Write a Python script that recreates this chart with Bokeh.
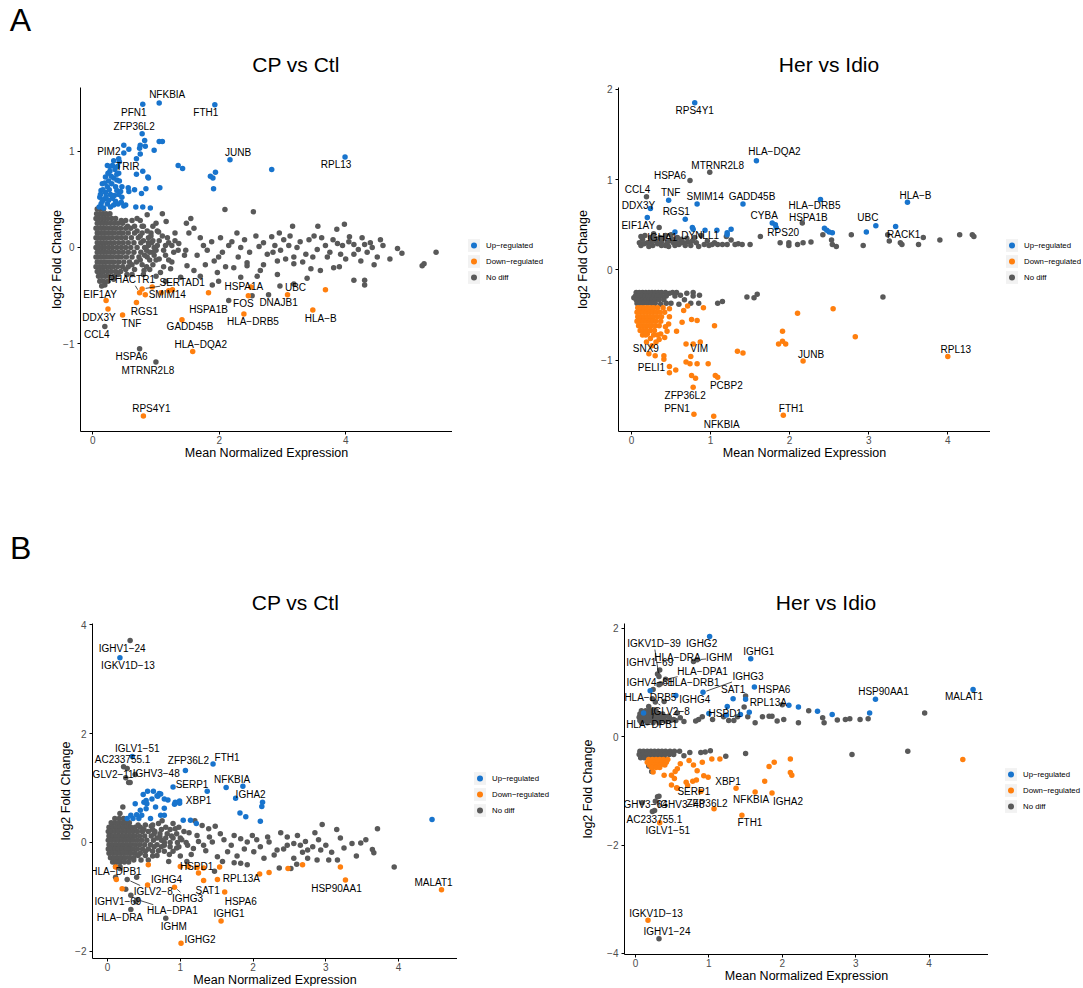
import math
from bokeh.plotting import figure
from bokeh.models import Range1d, Legend, LegendItem, Label, FixedTicker, ColumnDataSource
from bokeh.layouts import row, column
from bokeh.embed import file_html
from bokeh.resources import INLINE
from bokeh.core.properties import value

FONT = "Liberation Sans"
BLUE = "#1874CD"
ORANGE = "#FF7F0E"
GREY = "#595959"
KEYBG = "#F2F2F2"
MINUS = "\u2212"

LEGEND_LABELS = ["Up\u2212regulated", "Down\u2212regulated", "No diff"]
X_LABEL = "Mean Normalized Expression"
Y_LABEL = "log2 Fold Change"
TITLE_LEFT = "CP vs Ctl"
TITLE_RIGHT = "Her vs Idio"

# ---------------- Panel A, CP vs Ctl ----------------
a1_up = [(1.05,1.50),(0.79,1.485),(1.93,1.48),(0.78,1.18),(2.17,0.91),(3.99,0.94),(2.83,0.81),
 (0.49,1.06),(0.57,1.02),(0.49,0.98),(0.41,0.92),(0.42,0.89),(0.82,1.11),(0.75,1.06),(0.83,1.05),
 (0.74,1.03),(0.97,1.01),(1.05,1.10),(1.10,1.10),(0.69,0.92),(0.75,0.97),(1.35,0.85),(1.42,0.82),
 (1.86,0.74),(1.90,0.72),(1.94,0.78),(1.91,0.61),(0.79,0.79),(0.69,0.76),(0.87,0.73),(0.88,0.72),
 (1.06,0.62),(0.84,0.61),(0.77,0.56),(0.66,0.60),(0.57,0.58),(0.68,0.42),(0.79,0.42),(0.91,0.41),
 (0.49,0.43),(0.23,0.85),(0.31,0.85),(0.27,0.79),(0.35,0.81),(0.41,0.77),(0.20,0.73),(0.33,0.72),
 (0.25,0.69),(0.42,0.69),(0.15,0.66),(0.23,0.63),(0.36,0.63),(0.46,0.63),(0.13,0.59),(0.20,0.57),
 (0.28,0.55),(0.41,0.55),(0.11,0.52),(0.18,0.50),(0.31,0.51),(0.46,0.52),(0.13,0.45),(0.23,0.45),
 (0.33,0.44),(0.10,0.42),(0.17,0.41),(0.16,0.60),(0.26,0.60),(0.30,0.66),(0.38,0.59),(0.15,0.48),
 (0.25,0.49),(0.36,0.48),(0.40,0.45),(0.28,0.42),(0.21,0.53),(0.34,0.54),(0.38,0.70),(0.29,0.74),
 (0.38,0.76),(0.44,0.58),(0.12,0.55),(0.19,0.67),(0.24,0.77),(0.45,0.47),(0.52,0.44),(0.56,0.62),
 (0.33,0.90),(0.27,0.84),(0.39,0.84)]
a1_down = [(0.80,-1.75),(1.58,-1.08),(1.41,-0.75),(2.39,-0.69),(3.48,-0.65),(3.08,-0.49),(3.68,-0.44),
 (2.46,-0.50),(2.50,-0.41),(1.83,-0.47),(1.26,-0.44),(1.20,-0.45),(1.08,-0.47),(0.94,-0.41),(0.78,-0.43),
 (0.74,-0.47),(0.83,-0.49),(0.69,-0.57),(0.47,-0.70),(0.24,-0.64),(0.21,-0.55)]
a1_nodiff = [(2.09,0.395),(2.54,0.37),(3.16,0.22),(3.56,0.22),(3.86,0.19),(3.98,0.24),(2.83,0.11),
 (2.28,0.15),(4.06,0.11),(4.59,0.02),(4.82,-0.01),(4.89,-0.06),(5.43,-0.05),(5.24,-0.17),(5.21,-0.19),
 (1.55,0.30),(1.48,0.25),(1.60,0.20),(1.52,0.15),(1.10,0.35),(0.86,0.34),(1.16,0.27),(1.04,0.16),
 (1.18,0.10),(1.36,0.04),(1.70,0.10),(2.02,0.10),(2.15,0.02),(2.34,0.00),(2.63,0.01),(2.76,-0.07),
 (2.97,-0.03),(3.10,0.02),(3.23,0.00),(3.42,0.08),(3.37,-0.07),(3.55,-0.02),(3.68,0.02),(3.71,-0.10),
 (3.87,0.04),(3.92,-0.07),(4.13,0.03),(4.13,-0.07),(4.30,0.03),(4.39,0.05),(4.42,0.00),(4.34,-0.05),
 (4.24,-0.14),(4.50,-0.10),(3.18,-0.10),(2.92,-0.14),(2.44,-0.16),(1.99,-0.10),(1.81,-0.03),(1.65,-0.08),
 (1.47,-0.03),(4.13,-0.34),(4.30,-0.34),(4.30,-0.39),(3.39,-0.32),(3.18,-0.38),(2.96,-0.40),(2.78,-0.49),
 (2.52,-0.50),(2.15,-0.55),(1.89,-0.39),(1.99,-0.35),(2.34,-0.31),(1.97,-0.26),(2.23,-0.21),(2.65,-0.24),
 (2.92,-0.28),(3.18,-0.17),(1.70,-0.30),(1.39,-0.31),(1.07,-0.26),(0.81,-0.24),(0.54,-0.28),(0.33,-0.33),
 (0.19,-0.39),(0.19,-0.82),(0.74,-1.05),(0.998,-1.19),(1.60,-0.24),(2.44,-0.19),(3.60,-0.24),(3.81,-0.21),
 (1.49,-0.19),(1.23,-0.22),(2.05,-0.05),(2.20,0.06),(2.40,0.08),(2.48,-0.05),(2.58,0.12),(2.70,0.05),
 (2.85,-0.05),(2.88,0.02),(3.02,0.08),(3.05,-0.12),(3.28,0.06),(3.32,-0.15),(3.48,-0.10),(3.50,0.12),
 (3.62,0.10),(3.75,-0.05),(3.80,0.08),(3.95,0.02),(4.00,-0.12),(4.05,0.06),(4.20,-0.02),(4.26,0.10),
 (4.45,-0.18),(4.55,0.08),(1.75,0.02),(1.88,0.06),(1.92,-0.14),(1.78,-0.18),(2.10,-0.20),(2.30,-0.10),
 (2.60,-0.30),(2.70,-0.18),(2.95,0.15),(3.12,0.12),(3.45,-0.22),(3.90,-0.20),(4.70,-0.12),(0.70,0.30),
 (0.78,0.22),(0.92,0.15),(1.00,0.25),(0.95,-0.05),(1.05,-0.12),(1.12,-0.20),(0.85,-0.20),(0.80,-0.28),
 (1.00,-0.30),(1.25,-0.15),(1.30,0.15),(1.45,-0.08),(1.20,0.05),(1.28,-0.05),(0.88,0.05),(1.15,-0.35)]
# dense core of the cloud, one row per log2 fold change level
a1_nodiff_rows = [
 (0.40,[0.07,0.12,0.17]),
 (0.35,[0.06,0.11,0.16,0.21,0.27]),
 (0.30,[0.05,0.09,0.14,0.19,0.24,0.30,0.36]),
 (0.25,[0.07,0.12,0.17,0.22,0.28,0.34,0.40,0.47]),
 (0.20,[0.05,0.09,0.14,0.19,0.25,0.31,0.37,0.44,0.52,0.60]),
 (0.15,[0.07,0.12,0.17,0.22,0.28,0.34,0.41,0.48,0.56,0.66,0.78]),
 (0.10,[0.05,0.09,0.14,0.19,0.25,0.31,0.38,0.45,0.52,0.61,0.72,0.88]),
 (0.05,[0.07,0.12,0.17,0.22,0.28,0.34,0.41,0.48,0.56,0.65,0.76,0.93]),
 (0.00,[0.05,0.09,0.14,0.19,0.25,0.31,0.38,0.45,0.52,0.60,0.70,0.82,0.97]),
 (-0.05,[0.07,0.12,0.17,0.22,0.28,0.34,0.41,0.48,0.56,0.65,0.76,0.90]),
 (-0.10,[0.05,0.09,0.14,0.19,0.25,0.31,0.38,0.45,0.53,0.62,0.73,0.86]),
 (-0.15,[0.07,0.12,0.17,0.22,0.28,0.34,0.41,0.49,0.58,0.69]),
 (-0.20,[0.05,0.10,0.15,0.20,0.26,0.32,0.39,0.47,0.56]),
 (-0.25,[0.07,0.12,0.17,0.23,0.29,0.36,0.44]),
 (-0.30,[0.09,0.14,0.20,0.26,0.33]),
 (-0.35,[0.11,0.17,0.24]),
 (-0.40,[0.14]),
 # looser fringe of the cloud
 (0.28,[0.45,0.52,0.62,0.75]),
 (0.22,[0.55,0.66,0.80,0.95]),
 (0.17,[0.70,0.86,1.02]),
 (0.12,[0.75,0.92,1.10]),
 (0.07,[0.80,0.95,1.05,1.30]),
 (0.02,[0.88,1.02,1.15,1.25]),
 (-0.03,[0.85,1.00,1.12,1.35]),
 (-0.08,[0.82,0.97,1.15]),
 (-0.13,[0.75,0.90,1.00,1.20]),
 (-0.18,[0.62,0.78,0.95]),
 (-0.23,[0.52,0.66,0.90]),
 (-0.28,[0.40,0.62])]
a1_labels = [("NFKBIA",1.05,1.50),("PFN1",0.79,1.485),("FTH1",1.93,1.48),("ZFP36L2",0.78,1.18),
 ("PIM2",0.49,1.06),("TRIR",0.41,0.92),("JUNB",2.17,0.91),("RPL13",3.99,0.94),("PHACTR1",0.74,-0.47),
 ("SERTAD1",0.78,-0.43),("SMIM14",0.83,-0.49),("EIF1AY",0.21,-0.55),("RGS1",0.69,-0.57),
 ("DDX3Y",0.24,-0.64),("TNF",0.47,-0.70),("CCL4",0.19,-0.82),("HSPA1A",2.50,-0.41),("UBC",3.08,-0.49),
 ("FOS",2.46,-0.50),("DNAJB1",2.78,-0.49),("HSPA1B",1.83,-0.47),("HLA\u2212DRB5",2.39,-0.69),
 ("HLA\u2212B",3.48,-0.65),("GADD45B",1.41,-0.75),("HLA\u2212DQA2",1.58,-1.08),("HSPA6",0.74,-1.05),
 ("MTRNR2L8",0.998,-1.19),("RPS4Y1",0.80,-1.75)]
# label placement (pixels from the point, y downward) and whether a leader line is drawn
a1_label_place = [(8,-8,0),(-9,8,0),(-9,8,0),(-8,-7,0),(-15,6,0),(9,8,0),(8,-7,0),(-9,8,0),(-8,-13,1),
 (40,-6,1),(22,0,0),(-6,-6,0),(8,9,0),(-9,8,0),(9,9,0),(-8,8,0),(-7,0,0),(8,-7,0),(-5,8,0),(10,8,0),
 (0,17,0),(9,8,0),(8,8,0),(8,7,0),(8,-7,0),(-8,8,0),(-8,8,0),(8,-8,0)]

# ---------------- Panel A, Her vs Idio ----------------
a2_up = [(0.80,1.85),(1.58,1.21),(0.47,0.77),(0.83,0.73),(1.41,0.73),(0.24,0.68),(0.20,0.58),(0.68,0.56),
 (2.39,0.78),(3.49,0.75),(1.78,0.52),(1.82,0.50),(1.83,0.47),(3.09,0.49),(2.97,0.42),(3.34,0.48),
 (2.44,0.46),(2.47,0.44),(2.54,0.41),(2.50,0.42),(0.55,0.42),(0.77,0.47),(0.78,0.45),(0.93,0.44),
 (1.08,0.44),(1.21,0.41),(1.26,0.45),(1.21,0.39)]
a2_down = [(4.00,-0.96),(2.17,-1.01),(1.92,-1.61),(1.04,-1.62),(0.79,-1.60),(0.78,-1.30),(1.06,-1.17),
 (1.09,-1.19),(0.76,-1.17),(0.81,-1.20),(0.78,-0.82),(0.87,-0.80),(0.69,-0.82),(0.75,-0.96),(0.69,-1.02),
 (0.74,-1.04),(0.83,-1.04),(0.97,-1.04),(0.22,-0.93),(0.30,-0.95),(0.48,-1.07),(0.48,-1.14),(0.56,-1.11),
 (0.41,-0.99),(0.41,-0.95),(1.34,-0.90),(1.41,-0.92),(1.86,-0.82),(1.91,-0.79),(1.95,-0.82),(1.91,-0.68),
 (2.10,-0.48),(2.55,-0.43),(2.83,-0.74),(1.05,-0.62),(0.91,-0.42),(0.76,-0.55),(0.83,-0.56),(0.64,-0.58),
 (0.66,-0.45),(0.71,-0.40),(0.57,-0.68),(0.45,-0.68),(0.47,-0.60),(0.48,-0.52),(0.48,-0.43),(0.43,-0.63),
 (0.37,-0.71),(0.42,-0.75),(0.35,-0.77),(0.31,-0.80),(0.24,-0.76),(0.20,-0.71),(0.19,-0.80),(0.26,-0.84)]
a2_down_rows = [
 (-0.42,[0.08,0.12,0.16,0.20,0.24,0.28,0.33,0.40]),
 (-0.47,[0.07,0.11,0.15,0.19,0.23,0.27,0.31,0.36,0.42]),
 (-0.52,[0.08,0.12,0.16,0.20,0.24,0.28,0.33,0.38]),
 (-0.57,[0.07,0.11,0.15,0.19,0.23,0.27,0.31,0.37]),
 (-0.62,[0.09,0.13,0.17,0.21,0.25,0.30,0.35]),
 (-0.67,[0.11,0.15,0.19,0.24,0.29]),
 (-0.72,[0.14,0.18,0.28,0.33])]
a2_nodiff = [(3.24,0.39),(3.26,0.32),(3.40,0.30),(3.42,0.28),(3.63,0.28),(3.69,0.36),(3.90,0.33),(4.15,0.39),
 (4.31,0.39),(4.33,0.37),(2.93,0.27),(2.78,0.39),(2.53,0.33),(2.54,0.28),(2.59,0.26),(2.42,0.39),(2.27,0.31),
 (2.17,0.30),(2.10,0.28),(1.99,0.30),(1.99,0.27),(1.88,0.30),(1.63,0.37),(1.50,0.28),(1.35,0.29),(1.31,0.28),
 (1.21,0.28),(1.20,0.37),(1.15,0.28),(1.09,0.28),(1.02,0.28),(0.92,0.28),(0.82,0.30),(0.77,0.32),(0.72,0.31),
 (0.66,0.30),(0.60,0.28),(0.53,0.30),(0.48,0.32),(0.43,0.27),(0.35,0.47),(0.36,0.36),(0.31,0.32),(0.27,0.27),
 (0.20,0.30),(0.14,0.34),(0.17,0.38),(0.24,0.36),(0.43,0.38),(0.50,0.39),(0.58,0.36),(0.63,0.34),(0.88,0.38),
 (0.96,0.32),(0.74,0.99),(0.99,1.08),(0.19,0.81),(2.16,0.52),(0.10,0.30),(0.12,0.27),(0.16,0.29),(0.22,0.26),
 (0.25,0.31),(0.29,0.36),(0.33,0.29),(0.38,0.31),(0.40,0.35),(0.45,0.30),(0.52,0.34),(0.55,0.27),(0.62,0.30),
 (0.68,0.27),(0.70,0.35),(0.75,0.27),(0.80,0.36),(0.85,0.26),(0.12,0.37),(0.28,0.40),(0.38,0.27),(1.05,0.30),
 (1.26,0.33),(1.40,0.28),(0.98,0.27),(0.47,0.26),(0.57,0.31),
 (1.46,-0.30),(1.55,-0.31),(1.59,-0.27),(3.18,-0.30),(1.09,-0.37),(1.15,-0.35),(0.86,-0.28),(0.85,-0.37),
 (0.78,-0.25),(0.78,-0.29),(0.75,-0.37),(0.62,-0.28),(0.60,-0.38),(0.48,-0.26),(0.50,-0.37),(0.37,-0.38),
 (0.03,-0.31),(0.67,-0.33),(0.70,-0.26)]
a2_nodiff_rows = [
 (-0.25,[0.06,0.10,0.14,0.18,0.22,0.26,0.30,0.34,0.38,0.43,0.52,0.57]),
 (-0.29,[0.05,0.09,0.13,0.17,0.21,0.25,0.29,0.33,0.38,0.44,0.55]),
 (-0.33,[0.06,0.10,0.14,0.18,0.22,0.26,0.30,0.35,0.41]),
 (-0.37,[0.07,0.11,0.15,0.20,0.25,0.30,0.44])]
a2_labels = [("RPS4Y1",0.80,1.85),("HLA\u2212DQA2",1.58,1.21),("MTRNR2L8",0.99,1.08),("HSPA6",0.74,0.99),
 ("CCL4",0.19,0.81),("TNF",0.47,0.77),("SMIM14",0.83,0.73),("GADD45B",1.41,0.73),("DDX3Y",0.24,0.68),
 ("HLA\u2212DRB5",2.39,0.78),("HLA\u2212B",3.49,0.75),("RGS1",0.68,0.56),("CYBA",1.78,0.52),
 ("HSPA1B",2.16,0.52),("UBC",3.09,0.49),("EIF1AY",0.20,0.58),("RPS20",1.83,0.47),("DYNLL1",1.02,0.28),
 ("IGHA1",0.20,0.30),("RACK1",3.24,0.39),("SNX9",0.22,-0.93),("VIM",0.78,-0.82),("RPL13",4.00,-0.96),
 ("JUNB",2.17,-1.01),("PELI1",0.48,-1.07),("PCBP2",1.06,-1.17),("ZFP36L2",0.78,-1.30),("PFN1",0.79,-1.60),
 ("FTH1",1.92,-1.61),("NFKBIA",1.04,-1.62)]
a2_label_place = [(0,8,0),(18,-9,0),(8,-7,0),(-20,-5,0),(-9,-7,0),(2,-8,0),(8,-7,0),(9,-7,0),(-12,-3,0),
 (-6,6,0),(8,-7,0),(-9,-8,0),(-8,-7,0),(6,-5,0),(-8,-8,0),(-9,8,0),(7,5,0),(-12,-9,0),(15,-5,0),(16,0,0),
 (-3,-5,0),(6,5,0),(8,-7,0),(8,-7,0),(-18,1,0),(11,10,0),(-8,8,0),(-17,-6,0),(8,-7,0),(8,8,0)]

# ---------------- Panel B, CP vs Ctl ----------------
b1_up = [(0.17,3.39),(0.34,1.58),(1.07,1.32),(1.45,1.44),(1.63,1.01),(1.86,1.03),(0.90,1.02),(1.37,0.94),
 (1.76,0.81),(0.49,0.88),(0.55,0.94),(0.63,0.94),(0.71,0.90),(0.69,0.85),(0.53,0.77),(0.78,0.80),(0.83,0.78),
 (0.99,0.76),(0.93,0.74),(2.13,0.74),(0.99,0.72),(0.92,0.70),(0.78,0.63),(0.68,0.86),(2.12,0.66),(1.82,0.54),
 (1.90,0.47),(2.10,0.39),(4.46,0.42),(1.04,0.41),(1.14,0.41),(1.22,0.35),(0.73,0.50),(0.78,0.50),(0.59,0.44),
 (0.53,0.62),(0.45,0.59),(0.40,0.51),(0.38,0.71),(0.32,0.50),(0.35,0.44),(0.27,0.44),(0.43,0.44),(0.61,0.80),
 (0.50,0.74),(0.54,0.71),(0.66,0.65),(0.73,0.89),(0.47,0.50)]
b1_down = [(1.01,-1.85),(1.56,-1.44),(1.61,-0.91),(4.59,-0.87),(3.27,-0.69),(3.20,-0.45),(2.68,-0.41),
 (2.48,-0.48),(2.22,-0.55),(2.09,-0.58),(1.51,-0.68),(1.54,-0.45),(1.32,-0.70),(1.32,-0.47),(1.25,-0.56),
 (1.23,-0.46),(1.11,-0.44),(1.00,-0.44),(0.92,-0.82),(0.55,-0.78),(0.20,-0.85),(0.12,-0.68),(0.11,-0.45),
 (0.56,-0.41)]
b1_nodiff = [(2.95,0.33),(3.15,0.24),(3.71,0.25),(3.94,-0.45),(3.36,-0.02),(3.48,-0.01),(3.64,-0.13),
 (3.66,-0.19),(3.16,-0.32),(3.04,-0.32),(2.88,-0.32),(2.75,-0.29),(2.82,-0.08),(2.72,0.02),(2.65,-0.05),
 (2.56,-0.02),(2.47,-0.05),(2.38,0.18),(2.36,-0.47),(2.52,-0.48),(2.56,-0.29),(2.10,-0.08),(2.22,0.01),
 (2.01,-0.17),(1.92,-0.41),(1.83,-0.38),(1.74,0.13),(1.74,-0.37),(1.65,-0.17),(1.55,0.16),(1.51,-0.26),
 (1.47,-0.53),(1.39,0.25),(1.30,0.31),(1.23,0.13),(1.18,-0.11),(1.09,-0.35),(0.98,0.28),(0.93,0.25),
 (0.84,-0.35),(0.80,0.28),(0.70,0.35),(2.29,-0.23),(1.92,0.01),(1.99,0.13),(1.83,0.07),(1.44,0.01),
 (1.32,-0.05),(2.75,-0.14),(2.93,-0.14),(2.61,0.13),(2.47,0.10),(2.20,0.10),(2.33,-0.14),(2.15,-0.29),
 (0.31,3.71),(0.22,1.39),(0.27,1.36),(0.25,1.19),(0.38,1.25),(0.29,1.10),(0.31,1.10),
 (0.17,-0.48),(0.11,-0.64),(0.27,-0.68),(0.25,-0.86),(0.32,-0.97),(0.41,-1.05),(0.39,-1.09),(0.32,-1.23),
 (0.80,-1.39),(0.40,-0.64),(0.21,0.65),(0.17,0.53),
 (0.60,0.30),(0.65,0.20),(0.72,0.10),(0.78,-0.05),(0.88,0.12),(0.95,-0.10),(1.02,0.05),(1.12,0.18),
 (1.15,-0.22),(1.25,0.02),(1.35,-0.15),(1.40,0.10),(0.62,-0.25),(0.70,-0.15),(0.85,-0.22),(1.00,-0.25),
 (1.05,0.20),(0.90,0.35),(1.60,0.05),(1.70,-0.05),(1.78,-0.25),(1.88,-0.12),(2.05,0.05),(2.42,-0.12),
 (2.68,-0.18),(3.08,-0.18),(3.25,-0.10),(3.55,0.05),(3.42,-0.25),(2.90,0.05),(3.00,-0.05),(2.85,0.18),
 (2.60,-0.40),(3.20,0.08),(1.20,0.40),(1.10,-0.05),(0.75,0.40),(1.58,-0.35),(1.48,0.30)]
b1_nodiff_rows = [
 (0.44,[0.10,0.16,0.22]),
 (0.36,[0.05,0.10,0.15,0.20,0.25,0.30]),
 (0.28,[0.02,0.07,0.12,0.17,0.22,0.27,0.32,0.38,0.45]),
 (0.20,[0.01,0.05,0.10,0.15,0.20,0.25,0.30,0.35,0.41,0.48,0.56]),
 (0.12,[0.02,0.07,0.12,0.17,0.22,0.27,0.32,0.38,0.44,0.51,0.60]),
 (0.04,[0.01,0.05,0.10,0.15,0.20,0.25,0.30,0.35,0.41,0.47,0.54,0.63,0.74]),
 (-0.04,[0.02,0.07,0.12,0.17,0.22,0.27,0.32,0.38,0.44,0.51,0.59,0.68]),
 (-0.12,[0.01,0.05,0.10,0.15,0.20,0.25,0.30,0.35,0.41,0.48,0.56]),
 (-0.20,[0.02,0.07,0.12,0.17,0.22,0.27,0.32,0.38,0.45]),
 (-0.28,[0.04,0.09,0.14,0.19,0.24,0.30,0.36]),
 (-0.36,[0.07,0.12,0.17,0.23,0.29]),
 (-0.44,[0.11,0.17]),
 # looser fringe of the cloud
 (0.32,[0.42,0.52,0.62]),
 (0.24,[0.50,0.62,0.74,0.86]),
 (0.16,[0.64,0.72,0.82,0.95]),
 (0.08,[0.68,0.80,0.90,1.00]),
 (0.00,[0.78,0.86,0.96,1.08]),
 (-0.08,[0.64,0.74,0.86,0.98]),
 (-0.16,[0.52,0.62,0.78,0.90]),
 (-0.24,[0.42,0.52,0.68]),
 (-0.32,[0.36,0.46,0.56])]
b1_labels = [("IGHV1\u221224",0.31,3.71),("IGKV1D\u221213",0.17,3.39),("IGLV1\u221251",0.34,1.58),
 ("AC233755.1",0.22,1.39),("IGLV2\u221211",0.25,1.19),("IGHV3\u221248",0.38,1.25),("ZFP36L2",1.07,1.32),
 ("FTH1",1.45,1.44),("NFKBIA",1.63,1.01),("SERP1",0.90,1.02),("IGHA2",1.76,0.81),("XBP1",0.99,0.72),
 ("HLA\u2212DPB1",0.17,-0.48),("IGHG4",0.55,-0.78),("HSPD1",1.32,-0.47),("SAT1",1.32,-0.70),
 ("RPL13A",1.51,-0.68),("IGLV2\u22128",0.27,-0.68),("IGHG3",0.92,-0.82),("HSPA6",1.61,-0.91),
 ("IGHV1\u221269",0.39,-1.09),("HLA\u2212DPA1",0.41,-1.05),("HLA\u2212DRA",0.32,-1.23),("IGHG1",1.56,-1.44),
 ("IGHM",0.80,-1.39),("IGHG2",1.01,-1.85),("HSP90AA1",3.27,-0.69),("MALAT1",4.59,-0.87)]
b1_label_place = [(-8,8,0),(8,8,0),(5,-8,0),(-1,-7,0),(-14,-3,0),(21,-1,0),(3,-10,0),(14,-7,0),(6,-8,0),
 (19,-2,0),(15,-4,0),(19,-3,0),(-4,3,0),(19,-5,0),(-7,-2,0),(4,10,0),(24,-1,0),(26,12,1),(13,11,1),
 (16,9,0),(-18,0,0),(35,11,1),(-11,8,0),(8,-7,0),(8,8,0),(19,-4,0),(-9,8,0),(-8,-7,0)]

# ---------------- Panel B, Her vs Idio ----------------
b2_up = [(1.01,1.85),(1.57,1.44),(1.62,0.92),(0.92,0.82),(1.33,0.70),(1.50,0.69),(3.27,0.69),(4.60,0.87),
 (3.19,0.44),(2.68,0.41),(2.48,0.47),(2.22,0.55),(2.09,0.58),(1.55,0.45),(1.43,0.41),(1.25,0.56),(1.24,0.40),
 (1.00,0.43),(0.55,0.76),(0.20,0.85),(0.11,0.44)]
b2_down = [(4.46,-0.42),(2.11,-0.41),(1.89,-0.47),(1.82,-0.55),(2.11,-0.66),(2.13,-0.71),(1.76,-0.82),
 (1.15,-0.41),(1.04,-0.41),(0.91,-0.47),(0.79,-0.52),(0.84,-0.63),(0.93,-0.72),(0.99,-0.75),(0.83,-0.80),
 (0.78,-0.82),(0.69,-0.84),(0.61,-0.50),(0.73,-0.44),(0.57,-0.59),(0.54,-0.64),(0.49,-0.71),(0.53,-0.77),
 (0.39,-0.71),(0.49,-0.89),(0.57,-0.95),(0.24,-0.56),(0.24,-0.65),(0.17,-3.39),(0.33,-1.59),(1.45,-1.45),
 (1.07,-1.33),(1.63,-1.02),(1.86,-1.04),(1.37,-0.95),(0.89,-1.01),(0.71,-0.90),(0.56,-0.94)]
b2_down_rows = [
 (-0.42,[0.18,0.23,0.28,0.33,0.38,0.44]),
 (-0.47,[0.16,0.21,0.26,0.31,0.36,0.42]),
 (-0.52,[0.19,0.24,0.29,0.34,0.40]),
 (-0.57,[0.22,0.28,0.33])]
b2_nodiff = [(0.79,1.39),(0.84,1.42),(0.33,1.23),(0.30,1.16),(0.32,1.11),(0.41,1.06),(0.32,0.96),(0.34,0.98),
 (0.24,0.87),(0.23,0.70),(0.27,0.64),(0.39,0.65),(0.25,0.50),(0.18,0.56),(1.50,0.75),(1.48,0.55),(2.00,0.59),
 (2.36,0.48),(2.55,0.35),(2.57,0.26),(2.75,0.31),(2.86,0.32),(2.92,0.33),(3.06,0.32),(3.17,0.33),(3.94,0.44),
 (2.22,0.26),(2.02,0.32),(1.93,0.29),(1.86,0.38),(1.82,0.38),(1.73,0.37),(1.63,0.26),(1.53,0.37),(1.39,0.37),
 (1.34,0.30),(1.27,0.30),(1.20,0.37),(1.05,0.32),(0.91,0.37),(0.86,0.32),(0.82,0.29),(0.66,0.28),(0.61,0.35),
 (0.57,0.44),(0.52,0.32),(0.45,0.38),(0.41,0.29),(0.34,0.32),
 (0.09,-0.28),(1.23,-0.36),(1.50,-0.31),(2.95,-0.33),(3.71,-0.27),(1.02,-0.26),(0.95,-0.28),(0.89,-0.29),
 (0.74,-0.29),(0.66,-0.35),(0.18,-0.54),(0.22,-0.64),
 (0.32,-3.73),(0.23,-1.38),(0.26,-1.36),(0.30,-1.11),(0.32,-1.10),(0.09,-1.22),(0.27,-1.19)]
b2_nodiff_rows = [
 (0.48,[0.08,0.14,0.20,0.28]),
 (0.42,[0.06,0.11,0.16,0.21,0.26,0.31,0.37]),
 (0.36,[0.05,0.09,0.13,0.17,0.21,0.25,0.29,0.33,0.39,0.46]),
 (0.30,[0.06,0.10,0.14,0.18,0.22,0.26,0.30,0.35,0.48,0.55]),
 (0.26,[0.08,0.16,0.24,0.32]),
 (-0.27,[0.06,0.11,0.16,0.21,0.26,0.31,0.36,0.41,0.47,0.53,0.60]),
 (-0.33,[0.05,0.10,0.15,0.20,0.25,0.30,0.35,0.40,0.46,0.52]),
 (-0.39,[0.07,0.12,0.17,0.22,0.27,0.33,0.39])]
b2_labels = [("IGKV1D\u221239",0.32,1.11),("IGHG2",1.01,1.85),("IGHG1",1.57,1.44),("HLA\u2212DRA",0.79,1.39),
 ("IGHM",0.84,1.42),("IGHV1\u221269",0.33,1.23),("HLA\u2212DPA1",0.41,1.06),("IGHG3",0.92,0.82),
 ("IGHV4\u221261",0.32,0.96),("HLA\u2212DRB1",0.34,0.98),("SAT1",1.33,0.70),("HSPA6",1.62,0.92),
 ("HSP90AA1",3.27,0.69),("MALAT1",4.60,0.87),("HLA\u2212DRB5",0.23,0.70),("IGHG4",0.55,0.76),
 ("RPL13A",1.55,0.45),("IGLV2\u22128",0.27,0.64),("HSPD1",1.25,0.56),("HLA\u2212DPB1",0.25,0.50),
 ("XBP1",1.37,-0.95),("SERP1",0.89,-1.01),("NFKBIA",1.63,-1.02),("IGHA2",1.86,-1.04),("ZFP36L2",1.07,-1.33),
 ("IGHV3\u221264",0.09,-1.22),("IGHV3\u221248",0.32,-1.10),("AC233755.1",0.23,-1.38),("IGLV1\u221251",0.33,-1.59),
 ("FTH1",1.45,-1.45),("IGKV1D\u221213",0.17,-3.39),("IGHV1\u221224",0.32,-3.73)]
b2_label_place = [(-5,-33,1),(-8,7,0),(8,-7,0),(-16,-4,0),(22,-2,1),(-10,-8,1),(37,-8,1),(45,-16,1),(-9,-2,0),
 (33,-1,1),(0,-9,0),(20,3,0),(8,-8,0),(-9,7,0),(-2,-1,0),(19,4,0),(19,-10,0),(15,9,1),(-2,7,1),(-2,15,1),
 (-8,-7,0),(-7,0,0),(-4,8,0),(16,8,0),(-7,-5,0),(2,2,0),(22,8,0),(2,8,0),(8,8,0),(8,7,0),(8,-7,0),(8,-7,0)]


def split(pts, rows=()):
    xs = [p[0] for p in pts]
    ys = [p[1] for p in pts]
    for yv, xl in rows:
        for xv in xl:
            xs.append(xv)
            ys.append(yv)
    return xs, ys


def style_axis(ax, ticks, label, tick_standoff, label_standoff):
    ax.ticker = FixedTicker(ticks=ticks)
    ax.major_label_overrides = {t: (MINUS + str(-t)) for t in ticks if t < 0}
    ax.axis_label = label
    ax.axis_line_color = "black"
    ax.axis_line_width = 1
    ax.major_tick_line_color = "black"
    ax.major_tick_out = 3
    ax.major_tick_in = 0
    ax.minor_tick_line_color = None
    ax.major_label_text_font = FONT
    ax.major_label_text_font_size = "10px"
    ax.major_label_text_color = "#4D4D4D"
    ax.major_label_standoff = tick_standoff
    ax.axis_label_text_font = FONT
    ax.axis_label_text_font_size = "12.5px"
    ax.axis_label_text_font_style = "normal"
    ax.axis_label_text_color = "black"
    ax.axis_label_standoff = label_standoff


def bare_figure(fw, fh, top, bottom):
    f = figure(frame_width=fw, frame_height=fh, x_range=Range1d(0, 1), y_range=Range1d(0, 1),
               min_border_left=0, min_border_right=0, min_border_top=top, min_border_bottom=bottom,
               x_axis_type=None, y_axis_type=None, output_backend="svg", toolbar_location=None)
    f.outline_line_color = None
    f.border_fill_color = "white"
    return f


def make_panel(cfg, up, down, nodiff, labels, place):
    p = figure(frame_width=cfg["fw"], frame_height=cfg["fh"],
               x_range=Range1d(*cfg["xr"]), y_range=Range1d(*cfg["yr"]),
               min_border_left=cfg["b"][0], min_border_right=0,
               min_border_top=cfg["b"][1], min_border_bottom=cfg["b"][2],
               output_backend="svg", toolbar_location=None)
    p.grid.visible = False
    p.outline_line_color = None
    p.border_fill_color = "white"
    style_axis(p.xaxis[0], cfg["xt"], X_LABEL, 1, -1)
    style_axis(p.yaxis[0], cfg["yt"], Y_LABEL, 3, cfg["ystand"])

    nx, ny = nodiff
    dx_, dy_ = down
    ux, uy = up
    p.scatter(nx, ny, size=5.5, fill_color=GREY, line_color=None)
    p.scatter(dx_, dy_, size=5.5, fill_color=ORANGE, line_color=None)
    p.scatter(ux, uy, size=5.5, fill_color=BLUE, line_color=None)

    # ggrepel-like leader lines from the point to the edge of its label
    sx = cfg["fw"] / (cfg["xr"][1] - cfg["xr"][0])
    sy = cfg["fh"] / (cfg["yr"][1] - cfg["yr"][0])
    x0s, y0s, x1s, y1s = [], [], [], []
    for (g, x, y), (ox, oy, seg) in zip(labels, place):
        if not seg:
            continue
        hw = 3.0 * len(g) + 1
        hh = 6.0
        tx = hw / abs(ox) if ox else 1e9
        ty = hh / abs(oy) if oy else 1e9
        t = 1 - min(tx, ty)
        if t <= 0.1:
            continue
        s = 3.5 / math.hypot(ox, oy)
        x0s.append(x + s * ox / sx)
        y0s.append(y - s * oy / sy)
        x1s.append(x + t * ox / sx)
        y1s.append(y - t * oy / sy)
    if x0s:
        p.segment(x0s, y0s, x1s, y1s, line_color="black", line_width=0.7)

    src = ColumnDataSource(dict(
        x=[l[1] for l in labels], y=[l[2] for l in labels], text=[l[0] for l in labels],
        xo=[q[0] for q in place], yo=[q[1] for q in place]))
    p.text(x="x", y="y", text="text", x_offset="xo", y_offset="yo", source=src,
           text_font=value(FONT), text_font_size="10px", text_align="center",
           text_baseline="middle", text_color="black")
    return p


def make_legend(cfg, width, lx, vy):
    f = bare_figure(width, cfg["fh"], cfg["b"][1], cfg["b"][2])
    nan = float("nan")
    bg = f.quad(left=[nan], right=[nan], top=[nan], bottom=[nan], fill_color=KEYBG, line_color=None)
    r_up = f.scatter([nan], [nan], size=5.5, fill_color=BLUE, line_color=None)
    r_dn = f.scatter([nan], [nan], size=5.5, fill_color=ORANGE, line_color=None)
    r_nd = f.scatter([nan], [nan], size=5.5, fill_color=GREY, line_color=None)
    legend = Legend(items=[LegendItem(label=LEGEND_LABELS[0], renderers=[bg, r_up]),
                           LegendItem(label=LEGEND_LABELS[1], renderers=[bg, r_dn]),
                           LegendItem(label=LEGEND_LABELS[2], renderers=[bg, r_nd])],
                    location=(lx, vy), orientation="vertical", padding=0, spacing=0, margin=0,
                    glyph_width=15, glyph_height=16, label_height=16, label_standoff=5,
                    label_text_font=FONT, label_text_font_size="7.8px", label_text_color="black",
                    background_fill_alpha=0, border_line_color=None)
    f.add_layout(legend)
    return f


PAGE_W = 1081


def make_header(height, texts):
    # texts: (text, x, y above the header bottom, font size, alignment)
    f = bare_figure(PAGE_W, height, 0, 0)
    for t, x, y, fs, al in texts:
        f.add_layout(Label(x=x, y=y, x_units="screen", y_units="screen", text=t,
                           text_font=FONT, text_font_size=fs, text_color="black",
                           text_baseline="alphabetic", text_align=al))
    return f


# b = (left border, top border, bottom border)
cfg_a1 = dict(xr=(-0.195, 5.69), yr=(-1.91, 1.66), xt=[0, 2, 4], yt=[-1, 0, 1],
              fw=372, fh=344, b=(80, 8, 39), ystand=-4)
cfg_a2 = dict(xr=(-0.164, 4.54), yr=(-1.79, 2.02), xt=[0, 1, 2, 3, 4],
              yt=[-1, 0, 1, 2], fw=372, fh=344, b=(58, 8, 39), ystand=8)
cfg_b1 = dict(xr=(-0.207, 4.81), yr=(-2.13, 4.02), xt=[0, 1, 2, 3, 4],
              yt=[-2, 0, 2, 4], fw=365, fh=335, b=(92, 5, 32), ystand=-1)
cfg_b2 = dict(xr=(-0.15, 4.81), yr=(-4.02, 2.09), xt=[0, 1, 2, 3, 4],
              yt=[-4, -2, 0, 2], fw=364, fh=331, b=(64, 9, 32), ystand=9)

pa1 = make_panel(cfg_a1, split(a1_up), split(a1_down), split(a1_nodiff, a1_nodiff_rows),
                 a1_labels, a1_label_place)
pa2 = make_panel(cfg_a2, split(a2_up), split(a2_down, a2_down_rows), split(a2_nodiff, a2_nodiff_rows),
                 a2_labels, a2_label_place)
pb1 = make_panel(cfg_b1, split(b1_up), split(b1_down), split(b1_nodiff, b1_nodiff_rows),
                 b1_labels, b1_label_place)
pb2 = make_panel(cfg_b2, split(b2_up), split(b2_down, b2_down_rows), split(b2_nodiff, b2_nodiff_rows),
                 b2_labels, b2_label_place)

la1 = make_legend(cfg_a1, 108, 14, 146)
la2 = make_legend(cfg_a2, 91, 14, 146)
lb1 = make_legend(cfg_b1, 103, 15, 140)
lb2 = make_legend(cfg_b2, 93, 15, 140)

hdr_a = make_header(79, [("A", 9.3, 59.4, "32px", "left"),
                         (TITLE_LEFT, 295.5, 15.3, "21px", "center"),
                         (TITLE_RIGHT, 828.5, 15.3, "21px", "center")])
hdr_b = make_header(144, [("B", 9.4, 66.7, "32px", "left"),
                          (TITLE_LEFT, 295, 12.3, "21px", "center"),
                          (TITLE_RIGHT, 825.5, 12.3, "21px", "center")])

layout = column(hdr_a, row(pa1, la1, pa2, la2), hdr_b, row(pb1, lb1, pb2, lb2))
open("out.html", "w").write(file_html(layout, INLINE, title="MA plots"))
